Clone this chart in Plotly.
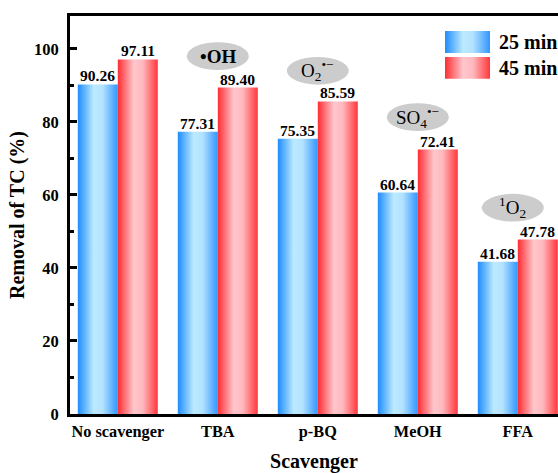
import plotly.graph_objects as go

categories = ["No scavenger", "TBA", "p-BQ", "MeOH", "FFA"]
series_names = ["25 min", "45 min"]
values_25 = [90.26, 77.31, 75.35, 60.64, 41.68]
values_45 = [97.11, 89.40, 85.59, 72.41, 47.78]
y_ticks = [0, 20, 40, 60, 80, 100]
species_labels = ["•OH", "O<sub>2</sub><sup>•−</sup>", "SO<sub>4</sub><sup>•−</sup>", "<sup>1</sup>O<sub>2</sub>"]
species_pos = [(1.0, 98.0), (2.0, 94.0), (3.0, 81.3), (3.95, 56.5)]
species_bold = [True, False, False, False]

FONT = "Liberation Serif, Times New Roman, serif"
BLUE_SCALE = [[0, "rgb(30,140,255)"], [0.4, "rgb(188,234,255)"], [0.62, "rgb(178,226,255)"], [1, "rgb(50,150,255)"]]
RED_SCALE = [[0, "rgb(255,45,50)"], [0.4, "rgb(255,198,204)"], [0.62, "rgb(255,185,190)"], [1, "rgb(255,55,60)"]]
BAR_W = 0.4

fig = go.Figure()


def rect_trace(x0, x1, y0, y1, scale):
    return go.Scatter(
        x=[x0, x1, x1, x0, x0], y=[y0, y0, y1, y1, y0],
        mode="lines", fill="toself", line=dict(width=0),
        fillgradient=dict(type="horizontal", colorscale=scale),
        hoverinfo="skip", showlegend=False,
    )


annotations = []
for i, cat in enumerate(categories):
    for vals, offset, scale in ((values_25, -BAR_W, BLUE_SCALE), (values_45, 0.0, RED_SCALE)):
        x0 = i + offset
        x1 = x0 + BAR_W
        fig.add_trace(rect_trace(x0, x1, 0, vals[i], scale))
        annotations.append(dict(
            x=(x0 + x1) / 2, y=vals[i], xref="x", yref="y", text=f"{vals[i]:.2f}",
            showarrow=False, yanchor="bottom", yshift=-2,
            font=dict(family=FONT, size=15.5, color="black", weight="bold"),
        ))

# species ellipses
shapes = []
for (cx, cy), lab, bold in zip(species_pos, species_labels, species_bold):
    shapes.append(dict(type="circle", xref="x", yref="y", x0=cx - 0.31, x1=cx + 0.31,
                       y0=cy - 3.8, y1=cy + 3.8, fillcolor="rgb(204,204,204)",
                       line=dict(width=0), layer="above"))
    annotations.append(dict(x=cx, y=cy, xref="x", yref="y", text=lab, showarrow=False,
                            font=dict(family=FONT, size=19, color="black",
                                      weight="bold" if bold else "normal")))

# legend (drawn manually)
leg_x0, leg_x1 = 3.272, 3.722
leg_rows = [(98.9, 104.9, BLUE_SCALE), (91.8, 97.8, RED_SCALE)]
for (y0, y1, scale), name in zip(leg_rows, series_names):
    fig.add_trace(rect_trace(leg_x0, leg_x1, y0, y1, scale))
    annotations.append(dict(x=leg_x1 + 0.07, y=(y0 + y1) / 2, xref="x", yref="y", text=name,
                            showarrow=False, xanchor="left",
                            font=dict(family=FONT, size=20, color="black", weight="bold")))

fig.update_layout(
    width=558, height=473,
    margin=dict(l=70, r=0, t=16, b=59),
    paper_bgcolor="white", plot_bgcolor="white",
    shapes=shapes, annotations=annotations,
    showlegend=False,
    font=dict(family=FONT, color="black"),
)
fig.update_xaxes(
    range=[-0.478, 4.402], tickvals=list(range(len(categories))), ticktext=categories,
    showline=True, linecolor="black", linewidth=3, mirror=True,
    ticks="", showgrid=False, zeroline=False,
    tickfont=dict(family=FONT, size=16.3, color="black", weight="bold"),
    title=dict(text="Scavenger", font=dict(family=FONT, size=20, color="black", weight="bold"), standoff=18),
)
fig.update_yaxes(
    range=[0, 109], tickvals=y_ticks,
    showline=True, linecolor="black", linewidth=3, mirror=False,
    ticks="inside", ticklen=7, tickwidth=3, tickcolor="black",
    minor=dict(ticks="inside", ticklen=4, tickwidth=3, tickcolor="black", dtick=10, showgrid=False),
    showgrid=False, zeroline=False, ticklabelstandoff=5,
    tickfont=dict(family=FONT, size=16.5, color="black", weight="bold"),
    title=dict(text="Removal of TC (%)", font=dict(family=FONT, size=20, color="black", weight="bold"), standoff=4),
)

fig.write_html("out.html")
